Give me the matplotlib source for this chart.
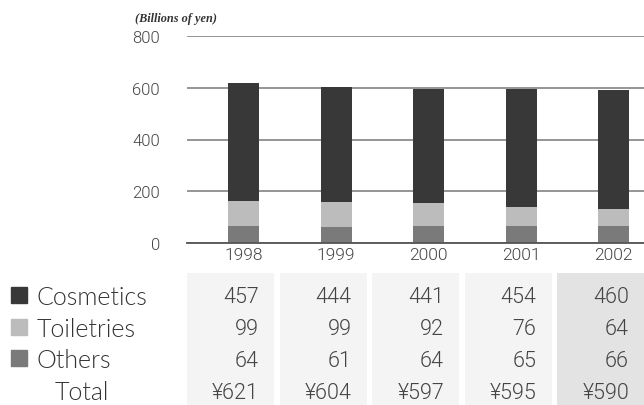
import matplotlib
matplotlib.use("Agg")
import matplotlib.pyplot as plt
from matplotlib.patches import Rectangle
import numpy as np

# data
years = ["1998", "1999", "2000", "2001", "2002"]
cosmetics = [457, 444, 441, 454, 460]
toiletries = [99, 99, 92, 76, 64]
others = [64, 61, 64, 65, 66]
totals = [621, 604, 597, 595, 590]
y_ticks = [0, 200, 400, 600, 800]
series_names = ["Cosmetics", "Toiletries", "Others"]
series_colors = ["#383838", "#bcbcbc", "#7a7a7a"]

W, H = 644, 406
fig = plt.figure(figsize=(W / 100, H / 100), dpi=100)

num_font = dict(family=["Roboto", "DejaVu Sans"], fontweight=300, color="#444444")
lab_font = dict(family=["Lato", "DejaVu Sans"], fontweight=300, color="#333333")

def px_box(left, top, right, bottom):
    return [left / W, 1 - bottom / H, (right - left) / W, (bottom - top) / H]

# pixel -> data mapping for x (bar i centred at 243.5 + 92.5*i)
x0, dx = 243.5, 92.5
xs = np.arange(len(years))

# chart axes
ax = fig.add_axes(px_box(187, 37, 644, 244))
ax.set_xlim((187 - x0) / dx, (644 - x0) / dx)
ax.set_ylim(0, 800)
bw = 31 / dx
ax.bar(xs, others, bw, color=series_colors[2], zorder=3)
ax.bar(xs, toiletries, bw, bottom=others, color=series_colors[1], zorder=3)
bottom2 = np.array(others) + np.array(toiletries)
ax.bar(xs, cosmetics, bw, bottom=bottom2, color=series_colors[0], zorder=3)

ax.set_yticks(y_ticks)
ax.set_yticklabels([str(v) for v in y_ticks], fontsize=12, **num_font)
ax.tick_params(axis="y", length=0, pad=19.5)
ax.set_xticks(xs)
ax.set_xticklabels(years, fontsize=12.5, **num_font)
ax.tick_params(axis="x", length=0, pad=3)
ax.grid(axis="y", color="#8c8c8c", linewidth=1.3, zorder=0)
for s in ["top", "right", "left"]:
    ax.spines[s].set_visible(False)
ax.spines["bottom"].set_color("#555555")
ax.spines["bottom"].set_linewidth(1.3)
ax.spines["bottom"].set_zorder(4)

fig.text(135 / W, 1 - 19 / H, "(Billions of yen)", fontsize=8.8, style="italic",
         fontweight="bold", family="Liberation Serif", color="#333333", va="center")

# table axes
tx = fig.add_axes(px_box(0, 274, 644, 406))
tx.set_xlim((0 - x0) / dx, (644 - x0) / dx)
row_h = 31.7
tx.set_ylim((406 - 298) / row_h, (274 - 298) / row_h)
tx.axis("off")
cell_colors = ["#f4f4f4"] * 4 + ["#e3e3e3"]
for i in range(len(years)):
    tx.add_patch(Rectangle((i - 0.61, -1), 0.94, 6, color=cell_colors[i], lw=0))
rows = [cosmetics, toiletries, others]
for i in range(len(years)):
    for r, vals in enumerate(rows):
        tx.text(i + bw / 2, r, str(vals[i]), ha="right", va="center", fontsize=15.5, **num_font)
    tx.text(i + bw / 2, 3, "\u00a5" + str(totals[i]), ha="right", va="center", fontsize=15.5, **num_font)

# legend column
for r, (name, c) in enumerate(zip(series_names, series_colors)):
    yc = 298 + row_h * r
    fig.patches.append(Rectangle((11 / W, 1 - (yc + 6) / H), 16 / W, 16 / H,
                                 color=c, transform=fig.transFigure, figure=fig))
    fig.text(37 / W, 1 - yc / H, name, fontsize=18, va="center", ha="left", **lab_font)
fig.text(109 / W, 1 - (298 + row_h * 3) / H, "Total", fontsize=18, va="center", ha="right", **lab_font)

fig.savefig("out.png", dpi=100)
